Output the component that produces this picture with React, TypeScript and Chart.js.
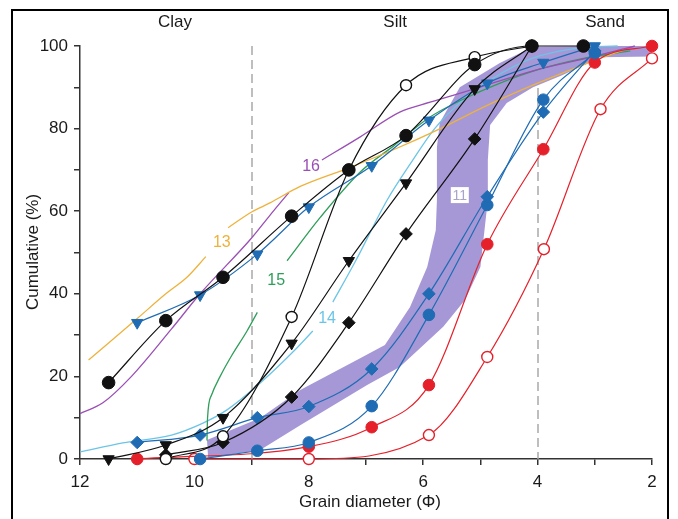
import React, { useEffect, useRef } from 'react';
import { Chart, registerables } from 'chart.js';

Chart.register(...registerables);

const FONT = '"Liberation Sans", Arial, Helvetica, sans-serif';

// ---------- tick labels ----------
const xTickLabels = [12, 10, 8, 6, 4, 2];
const yTickLabels = [0, 20, 40, 60, 80, 100];
const zoneNames = ['Clay', 'Silt', 'Sand'];
const zoneCenters = [10.34, 6.49, 2.82];
const boundaryPhi = [9, 4];

// ---------- black marker series ----------
const phiBlackA = [11.5, 10.5, 9.5, 8.3, 7.3, 6.3, 5.1, 4.1, 3.2];
const blackFilledCircle = [18.5, 33.5, 44, 58.8, 70, 78.3, 95.5, 100, 100];
const phiBlackB = [10.5, 9.5, 8.3, 7.3, 6.3, 5.1, 4.1];
const blackOpenCircle = [0, 5.5, 34.4, 70, 90.5, 97.3, 100];
const blackDiamond = [1, 4, 15, 33, 54.5, 77.5, 100];
const phiBlackC = [11.5, 10.5, 9.5, 8.3, 7.3, 6.3, 5.1, 4.1];
const blackTriangle = [0, 3.4, 10, 28, 48, 66.8, 89.6, 100];

// ---------- blue marker series ----------
const phiBlue = [11.0, 9.9, 8.9, 8.0, 6.9, 5.9, 4.88, 3.9, 3.0];
const blueTriangle = [33, 39.7, 49.6, 61, 71, 82, 91, 96, 100];
const blueDiamond = [4, 5.8, 10, 12.7, 21.8, 40, 63.5, 84, 98.8];
const phiBlueCircle = [9.9, 8.9, 8.0, 6.9, 5.9, 4.88, 3.9, 3.0];
const blueCircle = [0, 2, 4, 12.8, 34.9, 61.5, 87, 98.3];

// ---------- red marker series ----------
const phiRedFilled = [11.0, 8.0, 6.9, 5.9, 4.88, 3.9, 3.0, 2.0];
const redFilled = [0, 3, 7.7, 17.9, 52, 75, 96, 100];
const phiRedOpen = [10.0, 8.0, 5.9, 4.88, 3.89, 2.9, 2.0];
const redOpen = [0, 0, 5.8, 24.7, 50.8, 84.7, 97];

// ---------- unmarked curves (null = gap for label) ----------
const phi13 = [11.85, 11.0, 10.5, 10.13, 9.8, 9.6, 9.41, 9.0, 8.68, 8.15, 7.3, 6.5, 5.7, 4.9, 4.0, 3.1, 2.5];
const curve13 = [24, 34, 40, 44, 49, null, 56, 59.8, 62, 66, 70.5, 75, 80, 85.5, 91, 96, 99];

const phi16 = [12.0, 11.6, 11.1, 10.4, 9.9, 9.0, 8.68, 8.35, 8.0, 7.77, 7.1, 6.41, 5.88, 5.13, 4.08, 3.0, 2.3];
const curve16 = [11, 13.6, 20, 31.5, 40, 53.5, 59, 64.5, null, 72.4, 78, 84, 86.4, 89.5, 94, 97.5, 100];

const phi15 = [9.78, 9.77, 9.7, 9.55, 9.35, 9.08, 8.9, 8.6, 8.38, 7.8, 7.1, 6.5, 5.88, 5.0, 4.13, 3.2, 2.38];
const curve15 = [4.5, 10, 15.5, 20, 25, 31, 35.5, null, 48, 58.5, 69.5, 76, 82.8, 89, 93.7, 97, 98.8];

const phi14 = [12.0, 11.25, 10.4, 9.85, 9.43, 8.85, 8.2, 7.93, 7.75, 7.58, 7.18, 6.63, 6.2, 5.8, 5.3, 4.8, 4.1, 3.3, 2.6];
const curve14 = [1.7, 3.9, 5.8, 8.7, 11.9, 18.4, 27, 31, null, 38, 48, 62.7, 72, 80, 87, 92, 97, 99.5, 100];

// ---------- band "11" ----------
const bandUpperPhi = [9.78, 8.85, 8.15, 7.16, 6.67, 6.23, 5.93, 5.78, 5.76, 5.76, 5.71, 5.36, 4.66, 4.08, 2.9, 1.86];
const bandUpperPct = [4.6, 9.9, 16.7, 24, 27.6, 36.8, 46.5, 55.4, 62.7, 75.5, 81.4, 90, 95.9, 99.8, 100, 100];
const bandLowerPhi = [9.76, 8.85, 8.15, 6.98, 6.41, 5.65, 5.27, 5.0, 4.87, 4.87, 4.83, 4.54, 4.08, 3.56, 2.9, 1.86];
const bandLowerPct = [0.3, 2.2, 8.2, 17.9, 22.3, 32, 38.5, 46.5, 62.7, 72.4, 80.9, 86.2, 90, 93, 97.3, 97.5];

// ---------- label anchors (phi, pct) ----------
const curveLabels = [
  { text: '13', phi: 9.52, pct: 52.5, color: '#eeb23c' },
  { text: '16', phi: 7.96, pct: 70.9, color: '#9a4fb5' },
  { text: '15', phi: 8.57, pct: 43.1, color: '#2f9e5a' },
  { text: '14', phi: 7.68, pct: 33.9, color: '#6cc5e6' },
];
const bandLabel = { text: '11', phi: 5.36, pct: 63.9 };

const BLACK = '#111111';
const BLUE = '#1f6cb4';
const RED = '#e5202a';
const ORANGE = '#eeb23c';
const PURPLE = '#9a4fb5';
const GREEN = '#2f9e5a';
const CYAN = '#6cc5e6';
const BAND = '#a698d6';

const pts = (xs: number[], ys: (number | null)[]) => xs.map((x, i) => ({ x, y: ys[i] }));

function markerSeries(xs: number[], ys: number[], color: string, style: string, filled: boolean, radius: number, order: number) {
  return {
    data: pts(xs, ys),
    showLine: true,
    borderColor: color,
    borderWidth: 1.2,
    pointStyle: style,
    pointRotation: style === 'triangle' ? 180 : 0,
    pointRadius: radius,
    pointBackgroundColor: filled ? color : '#ffffff',
    pointBorderColor: color,
    pointBorderWidth: filled ? 1 : 1.4,
    cubicInterpolationMode: 'monotone',
    fill: false,
    clip: false,
    order,
  };
}

function plainSeries(xs: number[], ys: (number | null)[], color: string) {
  return {
    data: pts(xs, ys),
    showLine: true,
    borderColor: color,
    borderWidth: 1.3,
    pointRadius: 0,
    cubicInterpolationMode: 'monotone',
    spanGaps: false,
    fill: false,
    clip: false,
    order: 50,
  };
}

const bandPolygon = [
  ...pts(bandUpperPhi, bandUpperPct),
  ...pts(bandLowerPhi, bandLowerPct).reverse(),
];

const annotate = {
  id: 'annotate',
  beforeDatasetsDraw(chart: any) {
    const { ctx } = chart;
    const x = chart.scales.x;
    const y = chart.scales.y;
    ctx.save();
    ctx.strokeStyle = '#a9a9a9';
    ctx.lineWidth = 1.5;
    ctx.setLineDash([9, 5]);
    for (const v of boundaryPhi) {
      const px = Math.round(x.getPixelForValue(v));
      ctx.beginPath();
      ctx.moveTo(px, y.getPixelForValue(100));
      ctx.lineTo(px, y.getPixelForValue(0));
      ctx.stroke();
    }
    ctx.restore();
  },
  afterDatasetsDraw(chart: any) {
    const { ctx } = chart;
    const x = chart.scales.x;
    const y = chart.scales.y;
    ctx.save();
    ctx.font = `16px ${FONT}`;
    ctx.textAlign = 'center';
    ctx.textBaseline = 'middle';
    for (const l of curveLabels) {
      ctx.fillStyle = l.color;
      ctx.fillText(l.text, x.getPixelForValue(l.phi), y.getPixelForValue(l.pct));
    }
    const bx = x.getPixelForValue(bandLabel.phi);
    const by = y.getPixelForValue(bandLabel.pct);
    ctx.fillStyle = '#ffffff';
    ctx.fillRect(bx - 9, by - 8, 18, 16);
    ctx.fillStyle = '#aaa4c8';
    ctx.font = `14px ${FONT}`;
    ctx.fillText(bandLabel.text, bx, by + 1);
    ctx.restore();
  },
  afterDraw(chart: any) {
    const { ctx } = chart;
    const x = chart.scales.x;
    ctx.save();
    ctx.fillStyle = '#1a1a1a';
    ctx.font = `17px ${FONT}`;
    ctx.textAlign = 'center';
    ctx.textBaseline = 'middle';
    zoneNames.forEach((n, i) => ctx.fillText(n, x.getPixelForValue(zoneCenters[i]), 22));
    ctx.fillText('Grain diameter (\u03A6)', 370, 502);
    ctx.translate(33, 252);
    ctx.rotate(-Math.PI / 2);
    ctx.fillText('Cumulative (%)', 0, 0);
    ctx.restore();
    ctx.save();
    ctx.strokeStyle = '#000';
    ctx.lineWidth = 2;
    ctx.strokeRect(12, 10, 656, 530);
    ctx.restore();
  },
};

export default function App() {
  const ref = useRef<HTMLCanvasElement>(null);
  useEffect(() => {
    const canvas = ref.current!;
    const tickFont = { size: 17, family: FONT };
    const chart = new Chart(canvas, {
      type: 'scatter',
      data: {
        datasets: [
          {
            data: bandPolygon,
            showLine: true,
            borderWidth: 0,
            borderColor: 'rgba(0,0,0,0)',
            backgroundColor: BAND,
            pointRadius: 0,
            tension: 0,
            fill: 'shape',
            clip: false,
            order: 100,
          } as any,
          plainSeries(phi13, curve13, ORANGE),
          plainSeries(phi16, curve16, PURPLE),
          plainSeries(phi15, curve15, GREEN),
          plainSeries(phi14, curve14, CYAN),
          markerSeries(phiRedOpen, redOpen, RED, 'circle', false, 5.5, 9),
          markerSeries(phiRedFilled, redFilled, RED, 'circle', true, 5.8, 8),
          markerSeries(phiBlueCircle, blueCircle, BLUE, 'circle', true, 5.8, 7),
          markerSeries(phiBlue, blueDiamond, BLUE, 'rectRot', true, 6.3, 6),
          markerSeries(phiBlue, blueTriangle, BLUE, 'triangle', true, 6.5, 5),
          markerSeries(phiBlackB, blackDiamond, BLACK, 'rectRot', true, 6.3, 4),
          markerSeries(phiBlackC, blackTriangle, BLACK, 'triangle', true, 6.5, 3),
          markerSeries(phiBlackB, blackOpenCircle, BLACK, 'circle', false, 5.5, 2),
          markerSeries(phiBlackA, blackFilledCircle, BLACK, 'circle', true, 6.3, 1),
        ] as any,
      },
      options: {
        animation: false,
        responsive: false,
        devicePixelRatio: 1,
        layout: { padding: { left: 0, top: 46, right: 26, bottom: 0 } },
        plugins: { legend: { display: false }, tooltip: { enabled: false } },
        scales: {
          x: {
            type: 'linear',
            min: 2,
            max: 12,
            reverse: true,
            afterFit: (s: any) => { s.height = 60; },
            ticks: {
              stepSize: 1,
              autoSkip: false,
              maxRotation: 0,
              padding: 7,
              color: '#1a1a1a',
              font: tickFont,
              callback: (v: any) => (xTickLabels.includes(Number(v)) ? String(v) : ''),
            },
            grid: { display: true, drawOnChartArea: false, drawTicks: true, tickLength: 6, color: '#333', lineWidth: 1.5 },
            border: { display: true, color: '#333', width: 1.5 },
          },
          y: {
            type: 'linear',
            min: 0,
            max: 100,
            afterFit: (s: any) => { s.width = 80; },
            ticks: {
              stepSize: 10,
              autoSkip: false,
              padding: 6,
              color: '#1a1a1a',
              font: tickFont,
              callback: (v: any) => (yTickLabels.includes(Number(v)) ? String(v) : ''),
            },
            grid: { display: true, drawOnChartArea: false, drawTicks: true, tickLength: 6, color: '#333', lineWidth: 1.5 },
            border: { display: true, color: '#333', width: 1.5 },
          },
        },
      } as any,
      plugins: [annotate],
    });
    return () => chart.destroy();
  }, []);
  return (
    <div style={{ position: 'absolute', left: 0, top: 0, width: 678, height: 519, background: '#ffffff' }}>
      <canvas ref={ref} width={678} height={519} style={{ display: 'block', width: 678, height: 519 }} />
    </div>
  );
}
